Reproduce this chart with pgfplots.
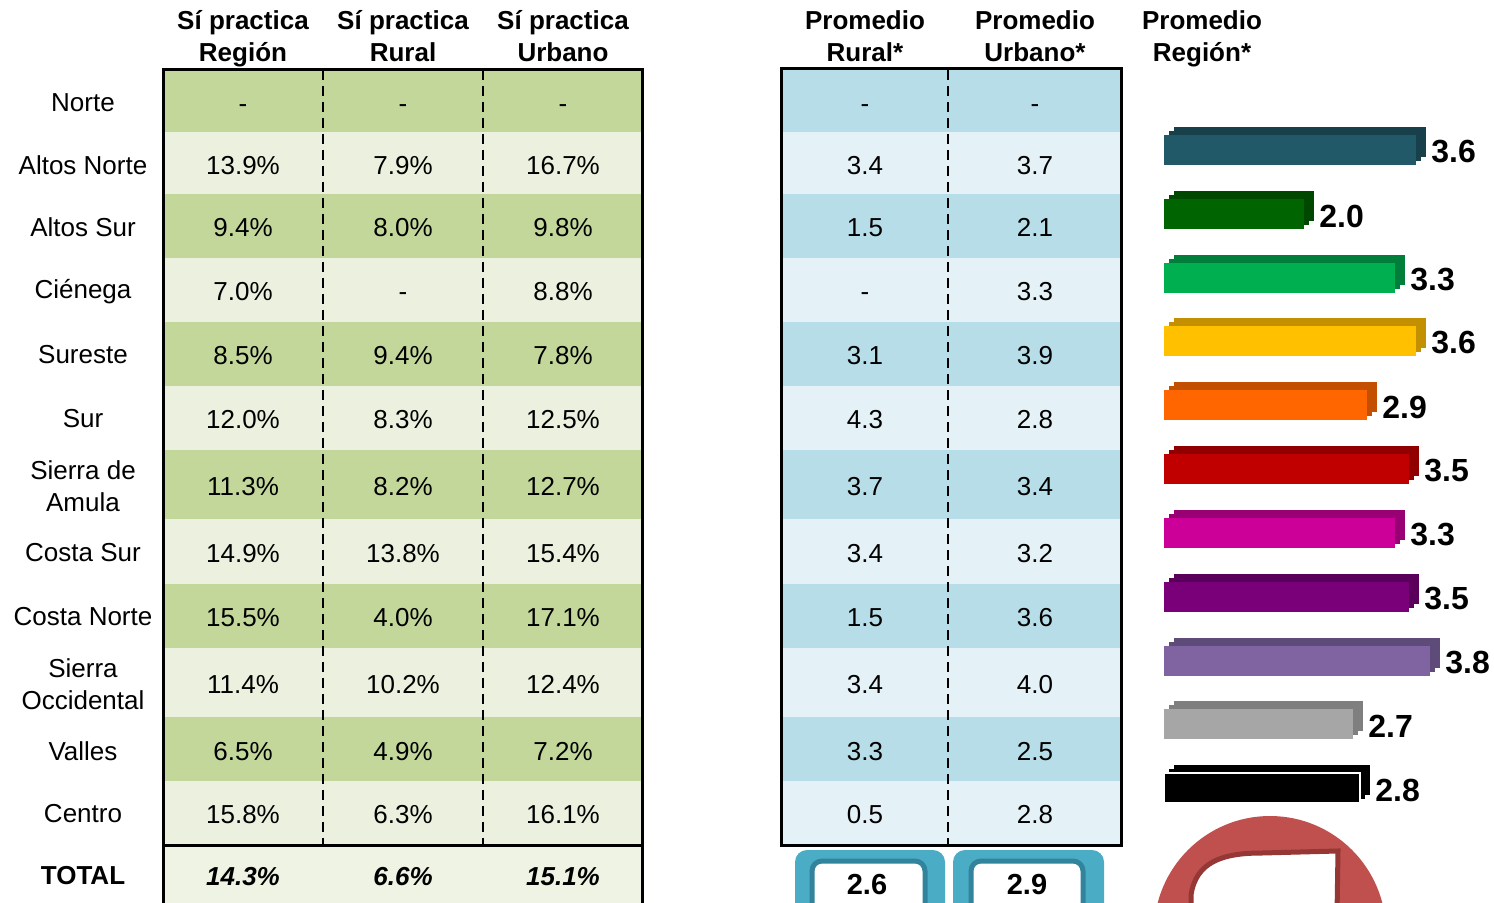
\documentclass[border=0pt]{standalone}
\usepackage{fontspec}
\setmainfont{Liberation Sans}
\usepackage{pgfplots}
\usepackage{pgfplotstable}
\pgfplotsset{compat=1.18}

\definecolor{verdeA}{HTML}{C4D79B}
\definecolor{verdeB}{HTML}{EBF1DE}
\definecolor{verdeT}{HTML}{EEF3E4}
\definecolor{azulA}{HTML}{B7DEE8}
\definecolor{azulB}{HTML}{E4F2F7}
\definecolor{cajaA}{HTML}{4BACC6}
\definecolor{cajaB}{HTML}{31849B}
\definecolor{anillo}{HTML}{C0504D}
\definecolor{anilloB}{HTML}{953735}
% bar colours: front / depth
\definecolor{b1}{HTML}{215968}\definecolor{b1d}{HTML}{17404B}
\definecolor{b2}{HTML}{006400}\definecolor{b2d}{HTML}{004800}
\definecolor{b3}{HTML}{00B050}\definecolor{b3d}{HTML}{007E3A}
\definecolor{b4}{HTML}{FFC000}\definecolor{b4d}{HTML}{C29000}
\definecolor{b5}{HTML}{FF6600}\definecolor{b5d}{HTML}{C25000}
\definecolor{b6}{HTML}{C00000}\definecolor{b6d}{HTML}{900000}
\definecolor{b7}{HTML}{CC0099}\definecolor{b7d}{HTML}{990073}
\definecolor{b8}{HTML}{7A007A}\definecolor{b8d}{HTML}{5A005A}
\definecolor{b9}{HTML}{8064A2}\definecolor{b9d}{HTML}{5F4B7A}
\definecolor{b10}{HTML}{A6A6A6}\definecolor{b10d}{HTML}{7F7F7F}
\definecolor{b11}{HTML}{000000}\definecolor{b11d}{HTML}{000000}

% rows of the two tables (yc = row centre, in pixels from the top)
\pgfplotstableread{
yc  reg     rur     urb     prur  purb
103 -       -       -       -     -
165 13.9\%  7.9\%   16.7\%  3.4   3.7
227 9.4\%   8.0\%   9.8\%   1.5   2.1
291 7.0\%   -       8.8\%   -     3.3
355 8.5\%   9.4\%   7.8\%   3.1   3.9
419 12.0\%  8.3\%   12.5\%  4.3   2.8
486 11.3\%  8.2\%   12.7\%  3.7   3.4
553 14.9\%  13.8\%  15.4\%  3.4   3.2
617 15.5\%  4.0\%   17.1\%  1.5   3.6
684 11.4\%  10.2\%  12.4\%  3.4   4.0
751 6.5\%   4.9\%   7.2\%   3.3   2.5
814 15.8\%  6.3\%   16.1\%  0.5   2.8
}\practica

\pgfplotsset{
  lienzo/.style={width=747pt, height=451.5pt, scale only axis,
    ymin=0, ymax=903, y dir=reverse, clip=false},
  celda/.style={draw=none, mark=none, point meta=explicit symbolic,
    nodes near coords,
    every node near coord/.append style={anchor=center, inner sep=0pt,
      text height=9.3pt, text depth=0pt,
      font=\fontsize{13}{16}\selectfont}},
}

\newcommand\barra[4]{%
  \addplot[xbar, bar width=15pt, bar shift=0pt, draw=none, fill=#4,
    xshift=5pt, yshift=4pt] coordinates {(#1,#2)};
  \addplot[xbar, bar width=15pt, bar shift=0pt, draw=none, fill=#4,
    xshift=2.5pt, yshift=2pt] coordinates {(#1,#2)};
  \addplot[xbar, bar width=15pt, bar shift=0pt, draw=none, fill=#3,
    point meta=x,
    nodes near coords={\pgfmathprintnumber[fixed,fixed zerofill,precision=1]{\pgfplotspointmeta}}]
    coordinates {(#1,#2)};
}

\begin{document}
\begin{tikzpicture}
\begin{axis}[lienzo, xmin=0, xmax=1494, axis on top,
  axis line style={draw=none}, major tick length=0pt,
  xticklabel pos=upper,
  xtick={243,403,563,865,1035,1202},
  xticklabels={{Sí practica\\Región},{Sí practica\\Rural},{Sí practica\\Urbano},
    {Promedio\\Rural*},{Promedio\\Urbano*},{Promedio\\Región*}},
  xticklabel style={font=\bfseries\fontsize{13}{16}\selectfont, align=center,
    anchor=north, inner sep=0pt, yshift=-5pt},
  ytick={103,165,227,292,355,419,486,553,617,684,751,814,876},
  yticklabels={Norte,Altos Norte,Altos Sur,Ciénega,Sureste,Sur,{Sierra de\\Amula},
    Costa Sur,Costa Norte,{Sierra\\Occidental},Valles,Centro,\textbf{TOTAL}},
  yticklabel style={font=\fontsize{13}{16}\selectfont, align=center,
    anchor=center, xshift=41.5pt},
]
  % left table rows
  \fill[verdeA] (163,70) rectangle (642,132);
  \fill[verdeB] (163,132) rectangle (642,194);
  \fill[verdeA] (163,194) rectangle (642,258);
  \fill[verdeB] (163,258) rectangle (642,322);
  \fill[verdeA] (163,322) rectangle (642,386);
  \fill[verdeB] (163,386) rectangle (642,450);
  \fill[verdeA] (163,450) rectangle (642,519);
  \fill[verdeB] (163,519) rectangle (642,584);
  \fill[verdeA] (163,584) rectangle (642,648);
  \fill[verdeB] (163,648) rectangle (642,717);
  \fill[verdeA] (163,717) rectangle (642,781);
  \fill[verdeB] (163,781) rectangle (642,845);
  \fill[verdeT] (163,845) rectangle (642,910);
  % right table rows
  \fill[azulA] (781,70) rectangle (1121,132);
  \fill[azulB] (781,132) rectangle (1121,194);
  \fill[azulA] (781,194) rectangle (1121,258);
  \fill[azulB] (781,258) rectangle (1121,322);
  \fill[azulA] (781,322) rectangle (1121,386);
  \fill[azulB] (781,386) rectangle (1121,450);
  \fill[azulA] (781,450) rectangle (1121,519);
  \fill[azulB] (781,519) rectangle (1121,584);
  \fill[azulA] (781,584) rectangle (1121,648);
  \fill[azulB] (781,648) rectangle (1121,717);
  \fill[azulA] (781,717) rectangle (1121,781);
  \fill[azulB] (781,781) rectangle (1121,845);
  % rules
  \draw[line width=1pt, dash pattern=on 5pt off 3pt]
    (323,70) -- (323,845) (483,70) -- (483,845) (948,70) -- (948,845);
  \draw[line width=1.5pt] (163,912) -- (163,70) -- (642,70) -- (642,912)
    (163,845) -- (642,845);
  \draw[line width=1.5pt] (781,69) rectangle (1121,845);
  % total boxes
  \fill[cajaA, rounded corners=6pt] (795,850) rectangle (945,930);
  \fill[cajaA, rounded corners=6pt] (953,850) rectangle (1104,930);
  \filldraw[fill=white, draw=cajaB, line width=2.5pt, rounded corners=5pt]
    (812,861) rectangle (925,930);
  \filldraw[fill=white, draw=cajaB, line width=2.5pt, rounded corners=5pt]
    (971,861) rectangle (1083,930);
  % red ring
  \fill[anillo] (1270,932) circle[radius=58pt];
  \filldraw[fill=white, draw=anilloB, line width=2.5pt]
    (1191,915) -- (1191,895) .. controls (1196,862) and (1222,853) .. (1262,853)
    -- (1338,851) -- (1337,915) -- cycle;

  % cell values
  \addplot[celda] table[x expr=243, y=yc, meta=reg] {\practica};
  \addplot[celda] table[x expr=403, y=yc, meta=rur] {\practica};
  \addplot[celda] table[x expr=563, y=yc, meta=urb] {\practica};
  \addplot[celda] table[x expr=865, y=yc, meta=prur] {\practica};
  \addplot[celda] table[x expr=1035, y=yc, meta=purb] {\practica};
  \addplot[celda, every node near coord/.append style={font=\bfseries\itshape\fontsize{13}{16}\selectfont}]
    coordinates {(243,876)[14.3\%] (403,876)[6.6\%] (563,876)[15.1\%]};
  \addplot[celda, every node near coord/.append style={text height=10.4pt,
      font=\bfseries\fontsize{14.5}{17}\selectfont}]
    coordinates {(867,884)[2.6] (1027,884)[2.9]};
\end{axis}

\begin{axis}[lienzo, xmin=-16.62857, xmax=4.71429, hide axis,
  every node near coord/.append style={font=\bfseries\fontsize{16}{19}\selectfont,
    /pgf/number format/assume math mode=true, anchor=west, inner sep=0pt,
    xshift=7.5pt, yshift=-1pt},
]
  \barra{3.6}{150}{b1}{b1d}
  \barra{2.0}{214}{b2}{b2d}
  \barra{3.3}{278}{b3}{b3d}
  \barra{3.6}{341}{b4}{b4d}
  \barra{2.9}{405}{b5}{b5d}
  \barra{3.5}{469}{b6}{b6d}
  \barra{3.3}{533}{b7}{b7d}
  \barra{3.5}{597}{b8}{b8d}
  \barra{3.8}{661}{b9}{b9d}
  \barra{2.7}{724}{b10}{b10d}
  \barra{2.8}{788}{b11}{b11d}
  \addplot[xbar, bar width=15pt, bar shift=0pt, draw=white, line width=0.8pt,
    fill=black] coordinates {(2.8,788)};
\end{axis}
\pgfresetboundingbox
\useasboundingbox (0,0) rectangle (747pt,451.5pt);
\end{tikzpicture}
\end{document}
